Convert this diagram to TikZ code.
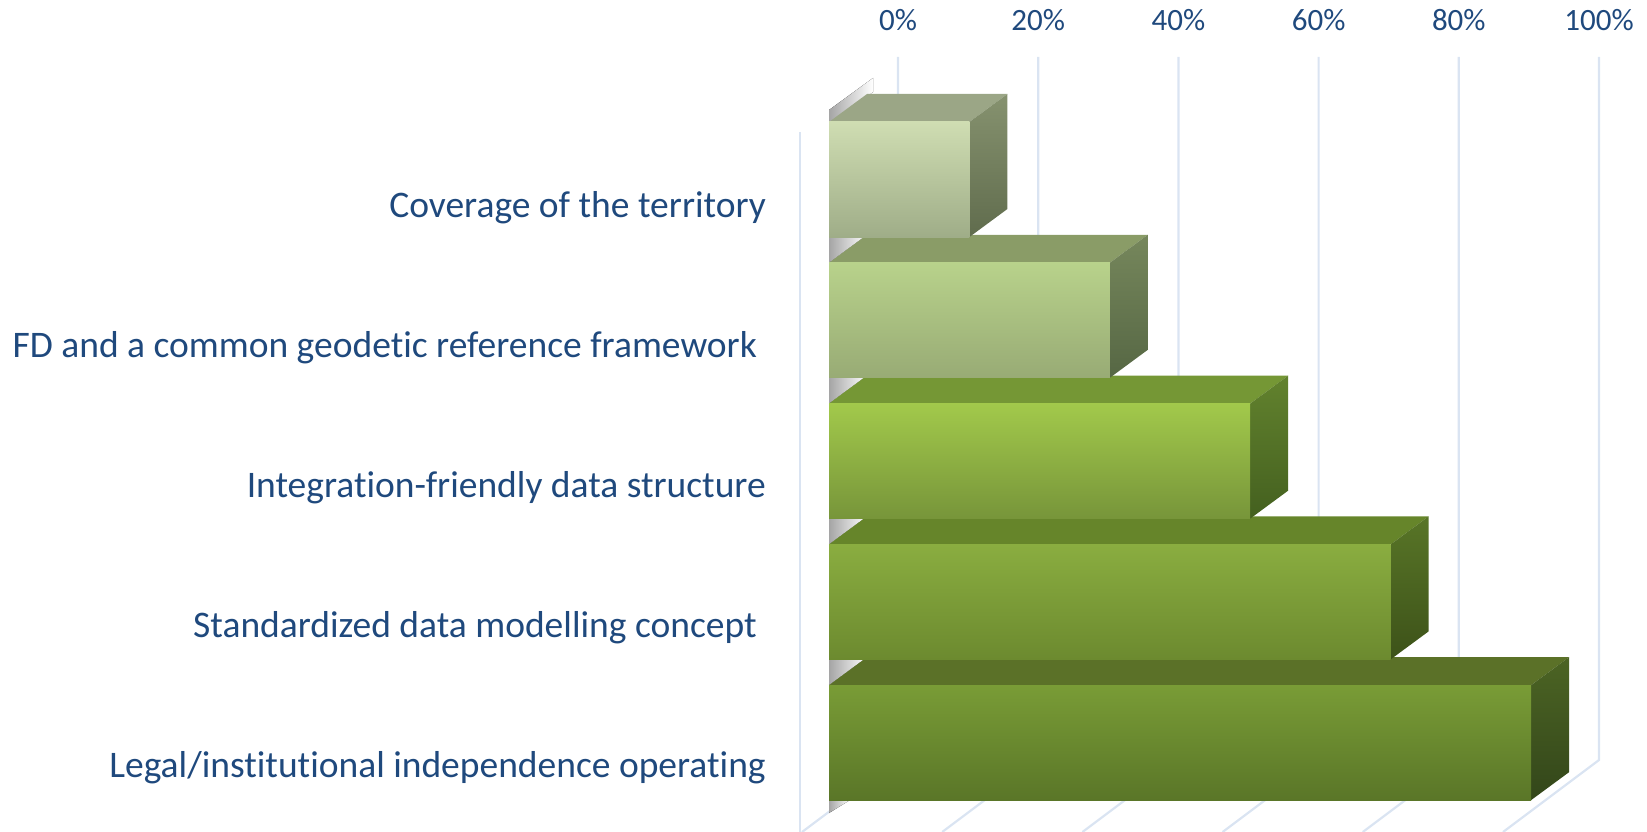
\documentclass[tikz,border=0pt]{standalone}
\usepackage{fontspec}
\setmainfont[Ligatures=NoCommon]{Carlito}
\definecolor{txt}{RGB}{31,73,125}
\definecolor{gridc}{RGB}{218,228,242}
\definecolor{shd}{RGB}{165,165,165}
\definecolor{aF}{HTML}{CFDDB2}\definecolor{aB}{HTML}{9FAD88}\definecolor{aT}{HTML}{9BA686}\definecolor{aS}{HTML}{86926F}\definecolor{aD}{HTML}{606C4D}
\definecolor{bF}{HTML}{B8D28B}\definecolor{bB}{HTML}{98AB75}\definecolor{bT}{HTML}{8A9C67}\definecolor{bS}{HTML}{76875C}\definecolor{bD}{HTML}{566744}
\definecolor{cF}{HTML}{A2C94B}\definecolor{cB}{HTML}{77953A}\definecolor{cT}{HTML}{759735}\definecolor{cS}{HTML}{62822E}\definecolor{cD}{HTML}{44601F}
\definecolor{dF}{HTML}{8AAD40}\definecolor{dB}{HTML}{6C8A2F}\definecolor{dT}{HTML}{66852A}\definecolor{dS}{HTML}{587527}\definecolor{dD}{HTML}{3D5219}
\definecolor{eF}{HTML}{799C36}\definecolor{eB}{HTML}{5A7628}\definecolor{eT}{HTML}{5B7128}\definecolor{eS}{HTML}{4C6424}\definecolor{eD}{HTML}{33461A}
\tikzset{
  gridline/.style={draw=gridc, line width=2.2pt},
  catlabel/.style={anchor=base east, inner sep=0pt, text=txt, font=\fontsize{37.5}{44}\selectfont},
  ticklabel/.style={anchor=base, inner sep=0pt, text=txt, font=\fontsize{31}{37}\selectfont},
  wallshadow/.style={left color=shd, right color=white}
}
% #1 top y, #2 right x, #3 colour prefix
\newcommand\mkbar[3]{%
  \fill[#3T] (829,#1) -- (867,#1-28) -- (#2+38,#1-28) -- (#2,#1) -- cycle;
  \shade[top color=#3S, bottom color=#3D] (#2,#1) -- (#2+38,#1-28) -- (#2+38,#1+87) -- (#2,#1+115) -- cycle;
  \shade[top color=#3F, bottom color=#3B] (829,#1) rectangle (#2,#1+115);
}
\begin{document}
\begin{tikzpicture}[x=1pt,y=-1pt]
\useasboundingbox (0,0) rectangle (1647,832);
% back wall gridlines and floor lines
\foreach \k in {0,...,5} {
  \draw[gridline] (898+140.2*\k,57) -- (898+140.2*\k,760) -- (802+140.2*\k,832);
}
\draw[gridline] (800,132) -- (800,832);
% tick labels
\node[ticklabel] (t0) at (898,31) {0\%};
\node[ticklabel] (t1) at (1038.2,31) {20\%};
\node[ticklabel] (t2) at (1178.4,31) {40\%};
\node[ticklabel] (t3) at (1318.6,31) {60\%};
\node[ticklabel] (t4) at (1458.8,31) {80\%};
\node[ticklabel] (t5) at (1599,31) {100\%};
% bars, from front (bottom) to back (top)
\fill[wallshadow] (829,800) -- (850,800) -- (829,813) -- cycle;
\fill[wallshadow] (829,685.2) -- (867,657.2) -- (829,657.2) -- cycle;
\mkbar{685.2}{1531}{e}
\fill[wallshadow] (829,544.4) -- (867,516.4) -- (829,516.4) -- cycle;
\mkbar{544.4}{1390.6}{d}
\fill[wallshadow] (829,403.6) -- (867,375.6) -- (829,375.6) -- cycle;
\mkbar{403.6}{1250.2}{c}
\fill[wallshadow] (829,262.8) -- (867,234.8) -- (829,234.8) -- cycle;
\mkbar{262.8}{1109.8}{b}
\fill[wallshadow] (829,124) -- (873,92) -- (873,78) -- (829,110) -- cycle;
\mkbar{122}{969.4}{a}
% category labels
\node[catlabel] (c1) at (766,217) {Coverage of the territory};
\node[catlabel] (c2) at (757,357) {FD and a common geodetic reference framework};
\node[catlabel] (c3) at (766,497) {Integration-friendly data structure};
\node[catlabel] (c4) at (757,637) {Standardized data modelling concept};
\node[catlabel] (c5) at (766,777) {Legal/institutional independence operating};
\end{tikzpicture}
\end{document}
